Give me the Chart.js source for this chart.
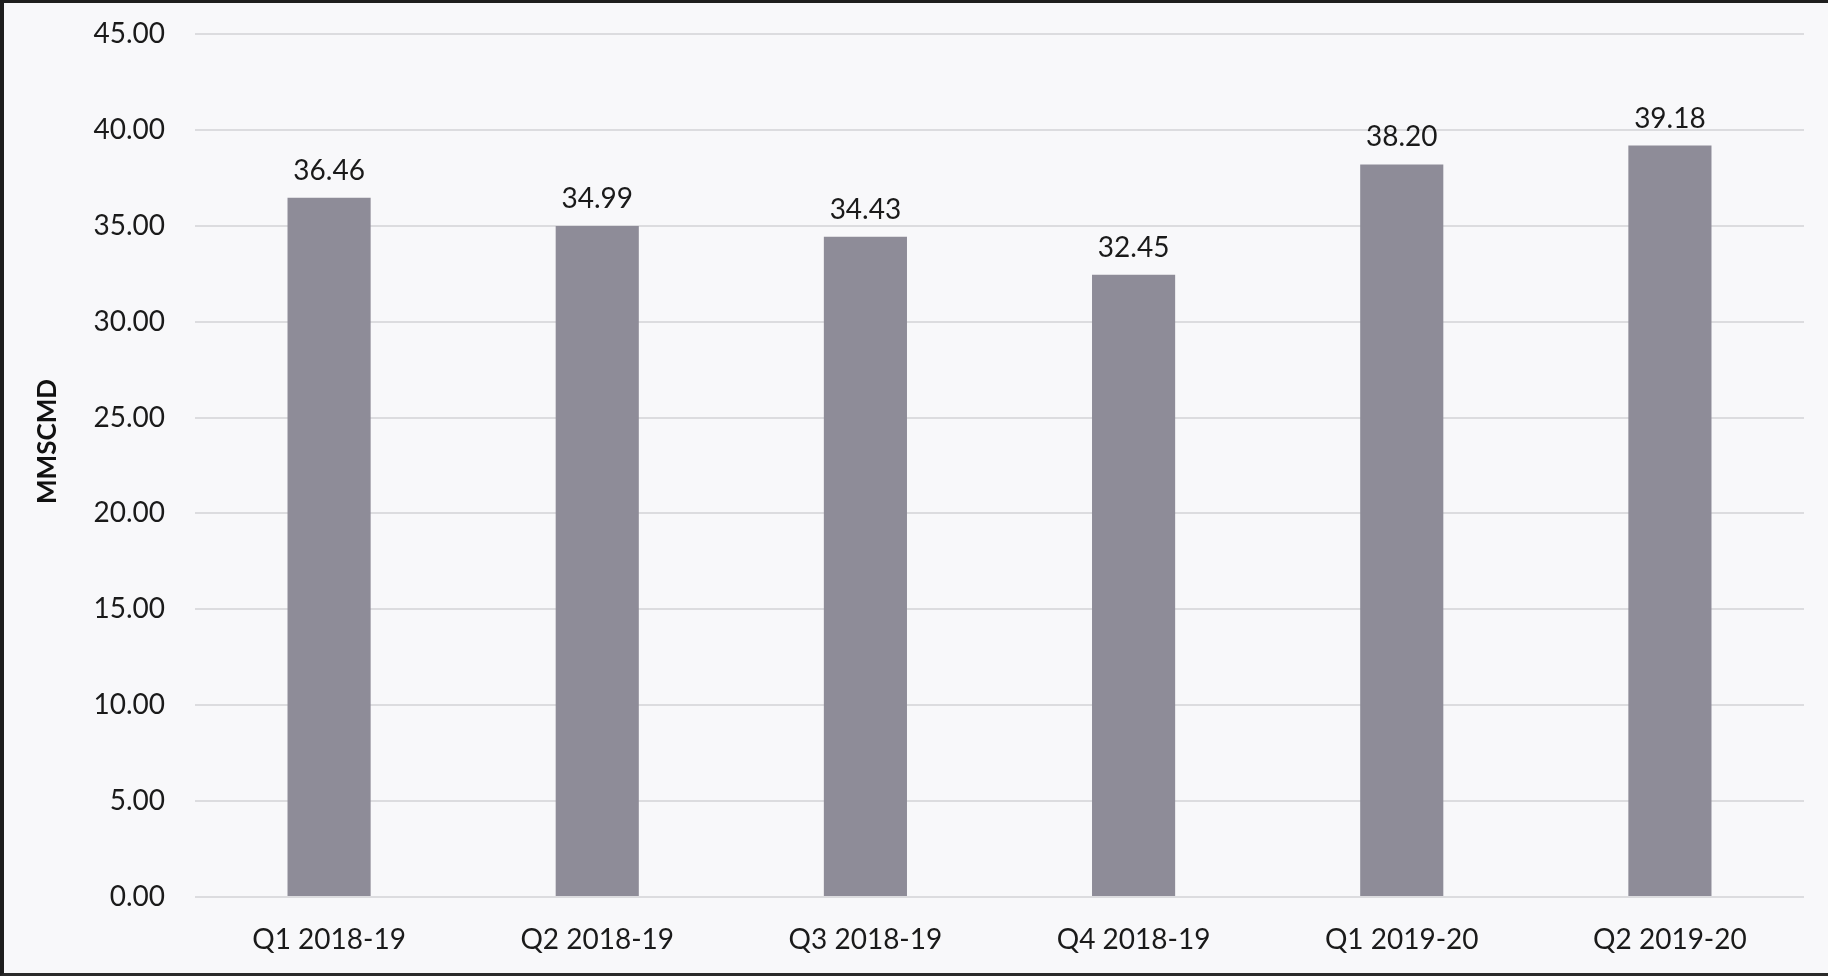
<!DOCTYPE html>
<html>
<head>
<meta charset="utf-8">
<script src="https://cdn.jsdelivr.net/npm/chart.js@4"></script>
<style>
    html, body { margin: 0; padding: 0; background: #f8f8fa; }
    #wrap {
        position: absolute; left: 0; top: 0;
        width: 1824px; height: 970px;
        border-left: 4px solid #1e1e1e;
        border-top: 3px solid #1e1e1e;
        border-bottom: 3px solid #2a2a2a;
        background: #f8f8fa;
    }
    canvas { display: block; }
</style>
</head>
<body>
<div id="wrap"><canvas id="supplyChart" width="1824" height="970"></canvas></div>
<script>
// Chart data
const quarters = ['Q1 2018-19', 'Q2 2018-19', 'Q3 2018-19', 'Q4 2018-19', 'Q1 2019-20', 'Q2 2019-20'];
const volumes = [36.46, 34.99, 34.43, 32.45, 38.20, 39.18];
const yTicks = [0, 5, 10, 15, 20, 25, 30, 35, 40, 45];
const yTitle = 'MMSCMD';

const fontFamily = 'Lato, "Open Sans", sans-serif';

// Value labels above each bar
const barLabels = {
    id: 'barLabels',
    afterDatasetsDraw(chart) {
        const ctx = chart.ctx;
        const meta = chart.getDatasetMeta(0);
        ctx.save();
        ctx.font = '28px ' + fontFamily;
        ctx.fillStyle = '#1a1a1a';
        ctx.textAlign = 'center';
        ctx.textBaseline = 'bottom';
        meta.data.forEach((bar, i) => {
            ctx.fillText(volumes[i].toFixed(2), bar.x, bar.y - 13);
        });
        ctx.restore();
    }
};

// Rotated y axis title, sitting a little above the middle like the original
const axisTitle = {
    id: 'axisTitle',
    afterDraw(chart) {
        const ctx = chart.ctx;
        const area = chart.chartArea;
        ctx.save();
        ctx.translate(44, (area.top + area.bottom) / 2 - 24);
        ctx.rotate(-Math.PI / 2);
        ctx.font = 'bold 26px ' + fontFamily;
        ctx.fillStyle = '#111';
        ctx.textAlign = 'center';
        ctx.textBaseline = 'middle';
        ctx.fillText(yTitle, 0, 0);
        ctx.restore();
    }
};

const initSupplyChart = () => {
    const ctx = document.getElementById('supplyChart').getContext('2d');
    const data = {
        labels: quarters,
        datasets: [{
            data: volumes,
            backgroundColor: '#8e8c98',
            categoryPercentage: 1,
            barPercentage: 0.31
        }]
    };

    const options = {
        responsive: false,
        animation: false,
        layout: {
            padding: { top: 31, right: 24, bottom: 0, left: 0 }
        },
        plugins: {
            legend: { display: false },
            tooltip: { enabled: false }
        },
        scales: {
            x: {
                grid: { display: false, drawTicks: false },
                border: { display: false },
                ticks: {
                    color: '#1a1a1a',
                    padding: 26,
                    font: { family: fontFamily, size: 28 }
                },
                afterFit: (scale) => { scale.height = 76; }
            },
            y: {
                min: 0,
                max: 45,
                afterBuildTicks: (scale) => {
                    scale.ticks = yTicks.map(v => ({ value: v }));
                },
                grid: { color: '#dcdcdf', lineWidth: 2, drawTicks: false },
                border: { display: false },
                ticks: {
                    color: '#1a1a1a',
                    padding: 30,
                    font: { family: fontFamily, size: 28 },
                    callback: (value) => Number(value).toFixed(2)
                },
                afterFit: (scale) => {
                    scale.width = 191;
                    scale.paddingTop = 0;
                    scale.paddingBottom = 0;
                }
            }
        }
    };

    new Chart(ctx, {
        type: 'bar',
        data,
        options,
        plugins: [barLabels, axisTitle]
    });
};

document.addEventListener('DOMContentLoaded', () => {
    initSupplyChart();
});
</script>
</body>
</html>
